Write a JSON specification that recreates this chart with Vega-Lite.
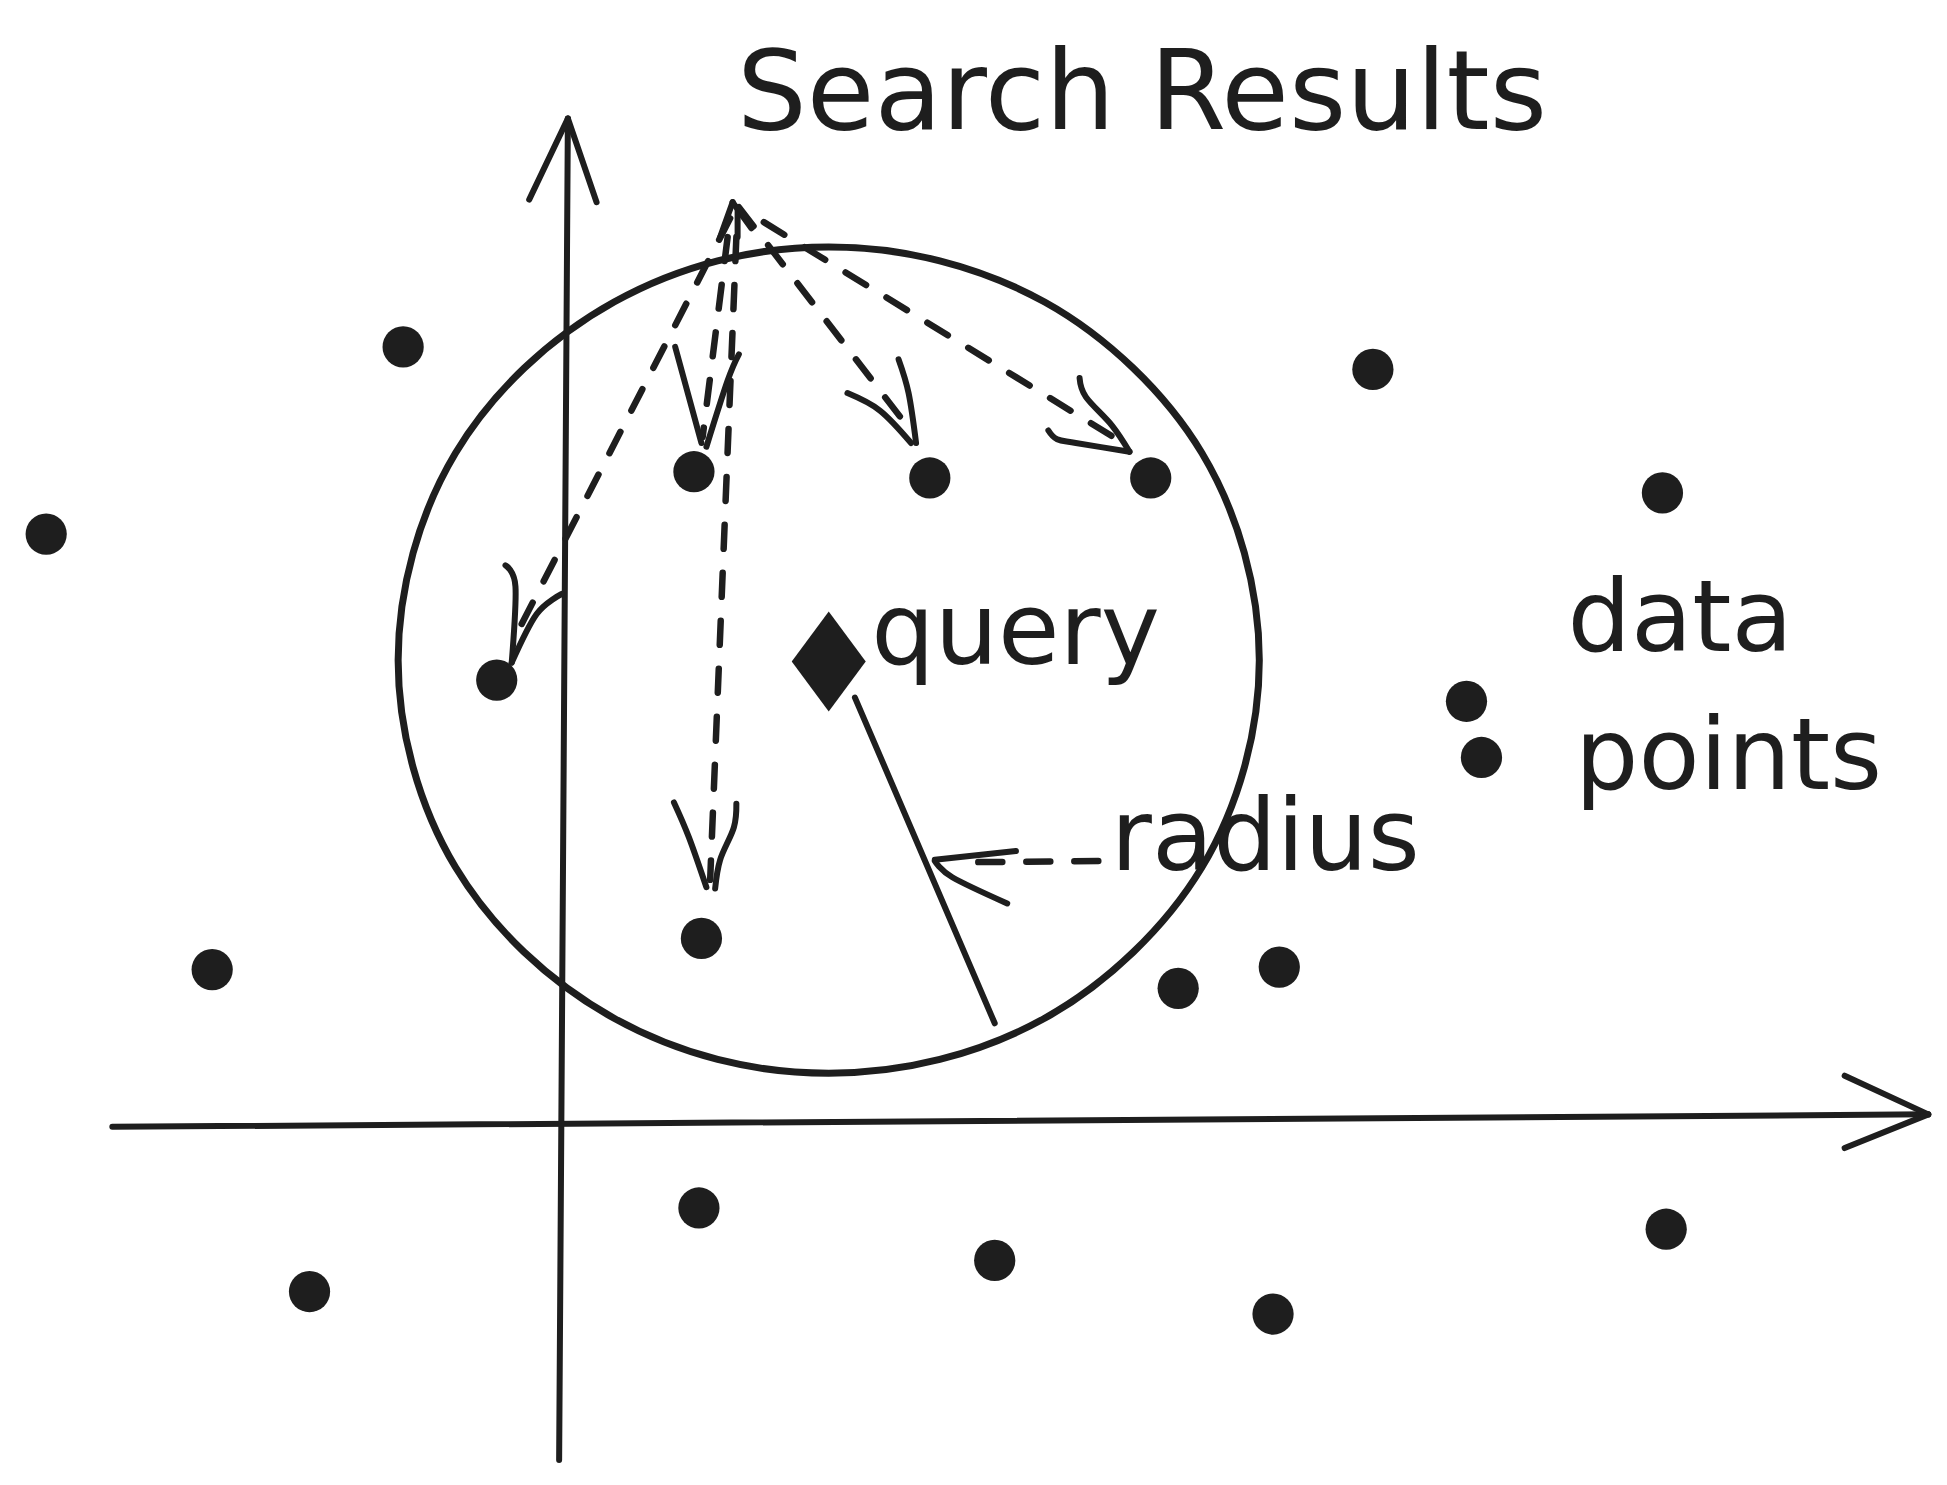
{
  "$schema": "https://vega.github.io/schema/vega-lite/v6.json",
  "width": 1947,
  "height": 1485,
  "autosize": {"type": "fit", "contains": "padding"},
  "padding": 0,
  "background": "#ffffff",
  "config": {"view": {"stroke": null}},
  "datasets": {
    "circle": [
      {"k": 1, "x": 559, "y": 374}, {"k": 2, "x": 547, "y": 288}, {"k": 3, "x": 513, "y": 208},
      {"k": 4, "x": 458, "y": 140}, {"k": 5, "x": 387, "y": 87}, {"k": 6, "x": 303, "y": 54},
      {"k": 7, "x": 214, "y": 43}, {"k": 8, "x": 125, "y": 54}, {"k": 9, "x": 42, "y": 87},
      {"k": 10, "x": -30, "y": 140}, {"k": 11, "x": -85, "y": 208}, {"k": 12, "x": -119, "y": 288},
      {"k": 13, "x": -131, "y": 374}, {"k": 14, "x": -119, "y": 460}, {"k": 15, "x": -85, "y": 540},
      {"k": 16, "x": -30, "y": 608}, {"k": 17, "x": 42, "y": 661}, {"k": 18, "x": 125, "y": 694},
      {"k": 19, "x": 214, "y": 705}, {"k": 20, "x": 303, "y": 694}, {"k": 21, "x": 387, "y": 661},
      {"k": 22, "x": 458, "y": 608}, {"k": 23, "x": 513, "y": 540}, {"k": 24, "x": 547, "y": 460}
    ],
    "strokes": [
      {"s": "yaxis", "k": 1, "x": -2, "y": -267, "dash": "solid"},
      {"s": "yaxis", "k": 2, "x": 5, "y": 808, "dash": "solid"},
      {"s": "yheadL", "k": 1, "x": -26, "y": 743, "dash": "solid"},
      {"s": "yheadL", "k": 2, "x": 5, "y": 808, "dash": "solid"},
      {"s": "yheadR", "k": 1, "x": 5, "y": 808, "dash": "solid"},
      {"s": "yheadR", "k": 2, "x": 28, "y": 741, "dash": "solid"},
      {"s": "xaxis", "k": 1, "x": -360, "y": 0, "dash": "solid"},
      {"s": "xaxis", "k": 2, "x": 1095, "y": 10, "dash": "solid"},
      {"s": "xheadT", "k": 1, "x": 1028, "y": 41, "dash": "solid"},
      {"s": "xheadT", "k": 2, "x": 1095, "y": 10, "dash": "solid"},
      {"s": "xheadB", "k": 1, "x": 1095, "y": 10, "dash": "solid"},
      {"s": "xheadB", "k": 2, "x": 1028, "y": -17, "dash": "solid"},
      {"s": "upL", "k": 1, "x": 127, "y": 713, "dash": "solid"},
      {"s": "upL", "k": 2, "x": 137, "y": 741, "dash": "solid"},
      {"s": "upR", "k": 1, "x": 137, "y": 741, "dash": "solid"},
      {"s": "upR", "k": 2, "x": 152, "y": 720, "dash": "solid"},
      {"s": "upStem", "k": 1, "x": 141, "y": 735, "dash": "solid"},
      {"s": "upStem", "k": 2, "x": 141, "y": 713, "dash": "solid"},
      {"s": "l1a", "k": 1, "x": -45, "y": 450, "dash": "solid"},
      {"s": "l1a", "k": 2, "x": -37, "y": 433, "dash": "solid"},
      {"s": "l1a", "k": 3, "x": -40, "y": 372, "dash": "solid"},
      {"s": "l1b", "k": 1, "x": 0, "y": 427, "dash": "solid"},
      {"s": "l1b", "k": 2, "x": -20, "y": 411, "dash": "solid"},
      {"s": "l1b", "k": 3, "x": -40, "y": 372, "dash": "solid"},
      {"s": "l2a", "k": 1, "x": 91, "y": 625, "dash": "solid"},
      {"s": "l2a", "k": 2, "x": 112, "y": 548, "dash": "solid"},
      {"s": "l2b", "k": 1, "x": 142, "y": 619, "dash": "solid"},
      {"s": "l2b", "k": 2, "x": 133, "y": 598, "dash": "solid"},
      {"s": "l2b", "k": 3, "x": 116, "y": 545, "dash": "solid"},
      {"s": "l3a", "k": 1, "x": 90, "y": 260, "dash": "solid"},
      {"s": "l3a", "k": 2, "x": 102, "y": 232, "dash": "solid"},
      {"s": "l3a", "k": 3, "x": 116, "y": 192, "dash": "solid"},
      {"s": "l3b", "k": 1, "x": 140, "y": 259, "dash": "solid"},
      {"s": "l3b", "k": 2, "x": 138, "y": 240, "dash": "solid"},
      {"s": "l3b", "k": 3, "x": 127, "y": 214, "dash": "solid"},
      {"s": "l3b", "k": 4, "x": 123, "y": 191, "dash": "solid"},
      {"s": "l4a", "k": 1, "x": 229, "y": 588, "dash": "solid"},
      {"s": "l4a", "k": 2, "x": 255, "y": 574, "dash": "solid"},
      {"s": "l4a", "k": 3, "x": 280, "y": 548, "dash": "solid"},
      {"s": "l4b", "k": 1, "x": 270, "y": 615, "dash": "solid"},
      {"s": "l4b", "k": 2, "x": 278, "y": 588, "dash": "solid"},
      {"s": "l4b", "k": 3, "x": 284, "y": 548, "dash": "solid"},
      {"s": "l5a", "k": 1, "x": 390, "y": 558, "dash": "solid"},
      {"s": "l5a", "k": 2, "x": 397, "y": 551, "dash": "solid"},
      {"s": "l5a", "k": 3, "x": 412, "y": 548, "dash": "solid"},
      {"s": "l5a", "k": 4, "x": 455, "y": 541, "dash": "solid"},
      {"s": "l5b", "k": 1, "x": 415, "y": 600, "dash": "solid"},
      {"s": "l5b", "k": 2, "x": 420, "y": 585, "dash": "solid"},
      {"s": "l5b", "k": 3, "x": 441, "y": 562, "dash": "solid"},
      {"s": "l5b", "k": 4, "x": 455, "y": 541, "dash": "solid"},
      {"s": "radius", "k": 1, "x": 235, "y": 344, "dash": "solid"},
      {"s": "radius", "k": 2, "x": 347, "y": 83, "dash": "solid"},
      {"s": "rda", "k": 1, "x": 364, "y": 221, "dash": "solid"},
      {"s": "rda", "k": 2, "x": 299, "y": 214, "dash": "solid"},
      {"s": "rdb", "k": 1, "x": 299, "y": 213, "dash": "solid"},
      {"s": "rdb", "k": 2, "x": 313, "y": 200, "dash": "solid"},
      {"s": "rdb", "k": 3, "x": 357, "y": 179, "dash": "solid"},
      {"s": "d1", "k": 1, "x": 135, "y": 728, "dash": "dashed"},
      {"s": "d1", "k": 2, "x": -32, "y": 403, "dash": "dashed"},
      {"s": "d2", "k": 1, "x": 133, "y": 713, "dash": "dashed"},
      {"s": "d2", "k": 2, "x": 113, "y": 553, "dash": "dashed"},
      {"s": "d3", "k": 1, "x": 140, "y": 713, "dash": "dashed"},
      {"s": "d3", "k": 2, "x": 119, "y": 198, "dash": "dashed"},
      {"s": "d4", "k": 1, "x": 142, "y": 737, "dash": "dashed"},
      {"s": "d4", "k": 2, "x": 272, "y": 568, "dash": "dashed"},
      {"s": "d5", "k": 1, "x": 162, "y": 725, "dash": "dashed"},
      {"s": "d5", "k": 2, "x": 445, "y": 551, "dash": "dashed"},
      {"s": "rd", "k": 1, "x": 430, "y": 213, "dash": "dashed"},
      {"s": "rd", "k": 2, "x": 318, "y": 212, "dash": "dashed"}
    ],
    "dots": [
      {"x": 106, "y": 525}, {"x": 295, "y": 520}, {"x": 472, "y": 520},
      {"x": -52, "y": 358}, {"x": 112, "y": 151}, {"x": -127, "y": 625},
      {"x": -413, "y": 475}, {"x": 650, "y": 607}, {"x": 882, "y": 508},
      {"x": 725, "y": 341}, {"x": 737, "y": 296}, {"x": -280, "y": 126},
      {"x": 575, "y": 128}, {"x": 494, "y": 111}, {"x": 110, "y": -65},
      {"x": -202, "y": -132}, {"x": 347, "y": -107}, {"x": 570, "y": -150},
      {"x": 885, "y": -82}
    ],
    "query": [{"x": 214, "y": 373}],
    "title": [{"x": 465, "y": 800, "label": "Search Results"}],
    "labels": [
      {"x": 248, "y": 371, "label": "query"},
      {"x": 806, "y": 381, "label": "data"},
      {"x": 812, "y": 271, "label": "points"},
      {"x": 440, "y": 206, "label": "radius"}
    ]
  },
  "encoding": {
    "x": {"field": "x", "type": "quantitative", "scale": {"domain": [-450, 1110], "nice": false, "zero": false}, "axis": null},
    "y": {"field": "y", "type": "quantitative", "scale": {"domain": [-287, 903], "nice": false, "zero": false}, "axis": null}
  },
  "layer": [
    {
      "data": {"name": "circle"},
      "mark": {"type": "line", "interpolate": "cardinal-closed", "stroke": "#1e1e1e", "strokeWidth": 7},
      "encoding": {"order": {"field": "k", "type": "quantitative"}}
    },
    {
      "data": {"name": "strokes"},
      "transform": [{"filter": "datum.dash == 'solid'"}],
      "mark": {"type": "line", "interpolate": "cardinal", "stroke": "#1e1e1e", "strokeWidth": 6, "strokeCap": "round", "strokeJoin": "round"},
      "encoding": {"detail": {"field": "s"}, "order": {"field": "k", "type": "quantitative"}}
    },
    {
      "data": {"name": "strokes"},
      "transform": [{"filter": "datum.dash == 'dashed'"}],
      "mark": {"type": "line", "stroke": "#1e1e1e", "strokeWidth": 6.5, "strokeCap": "round", "strokeDash": [24, 24]},
      "encoding": {"detail": {"field": "s"}, "order": {"field": "k", "type": "quantitative"}}
    },
    {
      "data": {"name": "dots"},
      "mark": {"type": "circle", "size": 1700, "color": "#1e1e1e", "opacity": 1}
    },
    {
      "data": {"name": "query"},
      "mark": {"type": "point", "shape": "M0,-1L0.74,0L0,1L-0.74,0Z", "size": 10000, "filled": true, "color": "#1e1e1e", "opacity": 1}
    },
    {
      "data": {"name": "title"},
      "mark": {"type": "text", "font": "DejaVu Sans", "fontSize": 110, "align": "center", "baseline": "alphabetic", "color": "#1e1e1e"},
      "encoding": {"text": {"field": "label"}}
    },
    {
      "data": {"name": "labels"},
      "mark": {"type": "text", "font": "DejaVu Sans", "fontSize": 100, "align": "left", "baseline": "alphabetic", "color": "#1e1e1e"},
      "encoding": {"text": {"field": "label"}}
    }
  ]
}
